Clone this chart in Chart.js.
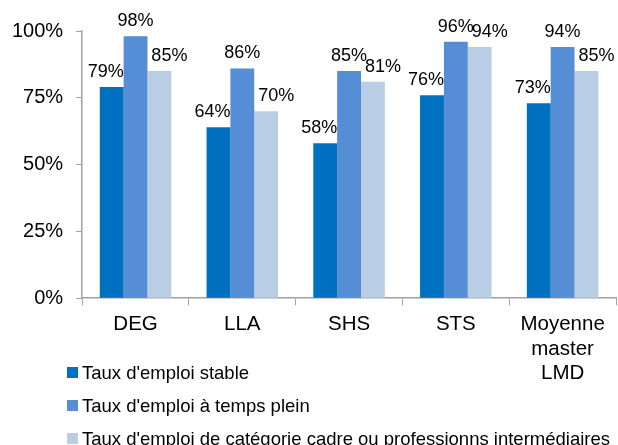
<!DOCTYPE html>
<html lang="fr">
<head>
<meta charset="utf-8">
<title>Taux d'emploi par domaine</title>
<script src="https://cdn.jsdelivr.net/npm/chart.js@4"></script>
<style>
    html, body { margin: 0; padding: 0; background: #fff; }
    .wrap { position: relative; width: 618px; height: 445px; }
    #legend {
        position: absolute; left: 67px; top: 356px;
        font-family: "Liberation Sans", Arial, sans-serif; font-size: 18.5px; color: #000;
    }
    #legend div { display: flex; align-items: center; height: 33px; white-space: nowrap; }
    #legend span.box { width: 11px; height: 11px; margin-right: 4px; display: inline-block; }
</style>
</head>
<body>
<div class="wrap">
    <canvas id="chart" width="618" height="445"></canvas>
    <div id="legend"></div>
</div>
<script>
// Data
const categories = ['DEG', 'LLA', 'SHS', 'STS', ['Moyenne', 'master', 'LMD']];
const seriesNames = [
    "Taux d'emploi stable",
    "Taux d'emploi à temps plein",
    "Taux d'emploi de catégorie cadre ou professionns intermédiaires"
];
const stable = [79, 64, 58, 76, 73];
const tempsPlein = [98, 86, 85, 96, 94];
const cadre = [85, 70, 81, 94, 85];
const yTicks = [0, 25, 50, 75, 100];

const colors = ['#0070C0', '#558ED5', '#B9CDE5'];
const labelShift = [-6, 0, 10];

const fontFamily = '"Liberation Sans", Arial, sans-serif';

// Value labels above each bar
const valueLabels = {
    id: 'valueLabels',
    afterDatasetsDraw(chart) {
        const ctx = chart.ctx;
        ctx.save();
        ctx.font = '18px ' + fontFamily;
        ctx.fillStyle = '#000';
        ctx.textAlign = 'center';
        ctx.textBaseline = 'bottom';
        chart.data.datasets.forEach((ds, i) => {
            chart.getDatasetMeta(i).data.forEach((bar, j) => {
                ctx.fillText(ds.data[j] + '%', bar.x + labelShift[i], bar.y - 6);
            });
        });
        ctx.restore();
    }
};

const ctx = document.getElementById('chart').getContext('2d');
const chart = new Chart(ctx, {
    type: 'bar',
    data: {
        labels: categories,
        datasets: [stable, tempsPlein, cadre].map((d, i) => ({
            label: seriesNames[i],
            data: d,
            backgroundColor: colors[i],
            borderWidth: 0
        }))
    },
    options: {
        responsive: false,
        animation: false,
        layout: { padding: { top: 31, left: -1, right: 2, bottom: 52 } },
        plugins: {
            legend: { display: false },
            tooltip: { enabled: false }
        },
        datasets: {
            bar: { barPercentage: 1, categoryPercentage: 0.67 }
        },
        scales: {
            x: {
                grid: { display: true, drawOnChartArea: false, tickLength: 7, color: '#A0A0A0', offset: true },
                border: { color: '#A0A0A0', width: 1.5 },
                ticks: { color: '#000', font: { family: fontFamily, size: 20.5 }, padding: 7, maxRotation: 0 }
            },
            y: {
                min: 0,
                max: 100,
                afterBuildTicks: axis => { axis.ticks = yTicks.map(v => ({ value: v })); },
                grid: { display: true, drawOnChartArea: false, tickLength: 6, color: '#A0A0A0' },
                border: { color: '#A0A0A0', width: 1.5 },
                ticks: {
                    color: '#000',
                    font: { family: fontFamily, size: 20 },
                    padding: 13,
                    callback: v => v + '%'
                }
            }
        }
    },
    plugins: [valueLabels]
});

// Legend built from the datasets
const legend = document.getElementById('legend');
chart.data.datasets.forEach(ds => {
    const row = document.createElement('div');
    row.innerHTML = '<span class="box" style="background:' + ds.backgroundColor + '"></span>';
    row.appendChild(document.createTextNode(ds.label));
    legend.appendChild(row);
});
</script>
</body>
</html>
